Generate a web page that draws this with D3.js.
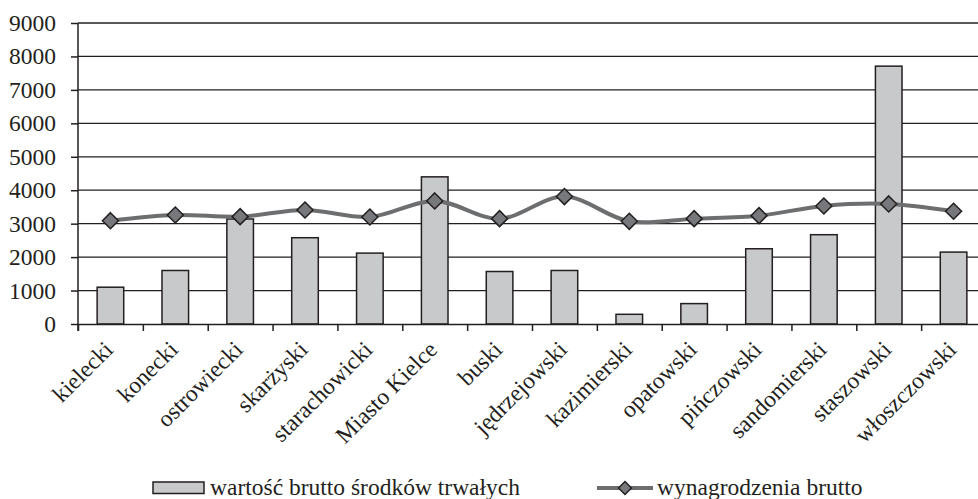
<!DOCTYPE html>
<html>
<head>
<meta charset="utf-8">
<script src="https://cdn.jsdelivr.net/npm/d3@7"></script>
<style>
  html, body { margin: 0; padding: 0; background: #fff; }
  svg { display: block; }
  text { font-family: "Liberation Serif", "Times New Roman", serif; fill: #231f20; }
</style>
</head>
<body>
<div id="chart"></div>
<script>
const powiaty = ["kielecki", "konecki", "ostrowiecki", "skarżyski", "starachowicki", "Miasto Kielce",
  "buski", "jędrzejowski", "kazimierski", "opatowski", "pińczowski", "sandomierski", "staszowski", "włoszczowski"];
const srodkiTrwale = [1100, 1600, 3140, 2580, 2120, 4400, 1570, 1600, 290, 610, 2250, 2670, 7710, 2150];
const wynagrodzenia = [3090, 3260, 3210, 3410, 3200, 3680, 3150, 3810, 3070, 3150, 3240, 3530, 3590, 3370];
const yTicks = [0, 1000, 2000, 3000, 4000, 5000, 6000, 7000, 8000, 9000];
const legendLabels = ["wartość brutto środków trwałych", "wynagrodzenia brutto"];

const width = 978, height = 499;
const margin = { top: 23, left: 78, bottom: 175 };
const plotRight = 986; // plot runs past the right edge of the picture
const fontSize = "23.5px";

const svg = d3.select("#chart").append("svg")
  .attr("width", width)
  .attr("height", height);

const x = d3.scaleBand()
  .domain(powiaty)
  .range([margin.left, plotRight])
  .paddingInner(0.59)
  .paddingOuter(0.295);

const xEdge = d3.scaleLinear()
  .domain([0, powiaty.length])
  .range([margin.left, plotRight]);

const y = d3.scaleLinear()
  .domain([0, 9000])
  .range([height - margin.bottom, margin.top]);

// gridlines
svg.append("g")
  .selectAll("line")
  .data(yTicks.slice(1))
  .enter().append("line")
    .attr("x1", margin.left)
    .attr("x2", plotRight)
    .attr("y1", d => y(d))
    .attr("y2", d => y(d))
    .attr("stroke", "#231f20")
    .attr("stroke-width", 1.3);

// bars
svg.append("g")
  .selectAll("rect")
  .data(srodkiTrwale)
  .enter().append("rect")
    .attr("x", (d, i) => x(powiaty[i]))
    .attr("y", d => y(d))
    .attr("width", x.bandwidth())
    .attr("height", d => y(0) - y(d))
    .attr("fill", "#c8c9cb")
    .attr("stroke", "#231f20")
    .attr("stroke-width", 1.5);

// y axis
const yAxis = d3.axisLeft(y)
  .tickValues(yTicks)
  .tickSize(7)
  .tickPadding(15)
  .tickFormat(d3.format("d"));

svg.append("g")
  .attr("transform", `translate(${margin.left},0)`)
  .call(yAxis)
  .call(g => g.selectAll("line").attr("stroke", "#231f20").attr("stroke-width", 1.5))
  .call(g => g.select(".domain").attr("stroke", "#231f20").attr("stroke-width", 1.5)
    .attr("d", `M0,${y(0) + 7}V${y(9000)}`))
  .call(g => g.selectAll("text").style("font-size", fontSize)
    .style("font-family", "'Liberation Serif', serif").attr("fill", "#231f20"));

// x axis with ticks at category boundaries
const xAxis = d3.axisBottom(xEdge)
  .tickValues(d3.range(powiaty.length + 1))
  .tickSize(7)
  .tickSizeOuter(0)
  .tickFormat("");

svg.append("g")
  .attr("transform", `translate(0,${y(0)})`)
  .call(xAxis)
  .call(g => g.selectAll("line").attr("stroke", "#231f20").attr("stroke-width", 1.5))
  .call(g => g.select(".domain").attr("stroke", "#231f20").attr("stroke-width", 1.5));

// category labels
svg.append("g")
  .selectAll("text")
  .data(powiaty)
  .enter().append("text")
    .attr("transform", d => `translate(${x(d) + x.bandwidth() / 2 + 4},${y(0) + 27}) rotate(-45)`)
    .attr("text-anchor", "end")
    .style("font-size", fontSize)
    .text(d => d);

// smoothed line
const line = d3.line()
  .x((d, i) => x(powiaty[i]) + x.bandwidth() / 2)
  .y(d => y(d))
  .curve(d3.curveCatmullRom.alpha(0.5));

svg.append("path")
  .datum(wynagrodzenia)
  .attr("d", line)
  .attr("fill", "none")
  .attr("stroke", "#6d6e70")
  .attr("stroke-width", 4);

const diamond = r => `M0,${-r}L${r},0L0,${r}L${-r},0Z`;

svg.append("g")
  .selectAll("path")
  .data(wynagrodzenia)
  .enter().append("path")
    .attr("transform", (d, i) => `translate(${x(powiaty[i]) + x.bandwidth() / 2},${y(d)})`)
    .attr("d", diamond(8))
    .attr("fill", "#77787b")
    .attr("stroke", "#231f20")
    .attr("stroke-width", 1.5);

// legend
const legend = svg.append("g");

legend.append("rect")
  .attr("x", 153).attr("y", 482)
  .attr("width", 51).attr("height", 11.5)
  .attr("fill", "#c8c9cb")
  .attr("stroke", "#231f20")
  .attr("stroke-width", 1.5);

legend.append("text")
  .attr("x", 210).attr("y", 495)
  .style("font-size", fontSize)
  .text(legendLabels[0]);

legend.append("line")
  .attr("x1", 597).attr("x2", 653)
  .attr("y1", 488).attr("y2", 488)
  .attr("stroke", "#6d6e70")
  .attr("stroke-width", 4);

legend.append("path")
  .attr("transform", "translate(625,488)")
  .attr("d", diamond(6.5))
  .attr("fill", "#77787b")
  .attr("stroke", "#231f20")
  .attr("stroke-width", 1.5);

legend.append("text")
  .attr("x", 657).attr("y", 495)
  .style("font-size", fontSize)
  .text(legendLabels[1]);
</script>
</body>
</html>
